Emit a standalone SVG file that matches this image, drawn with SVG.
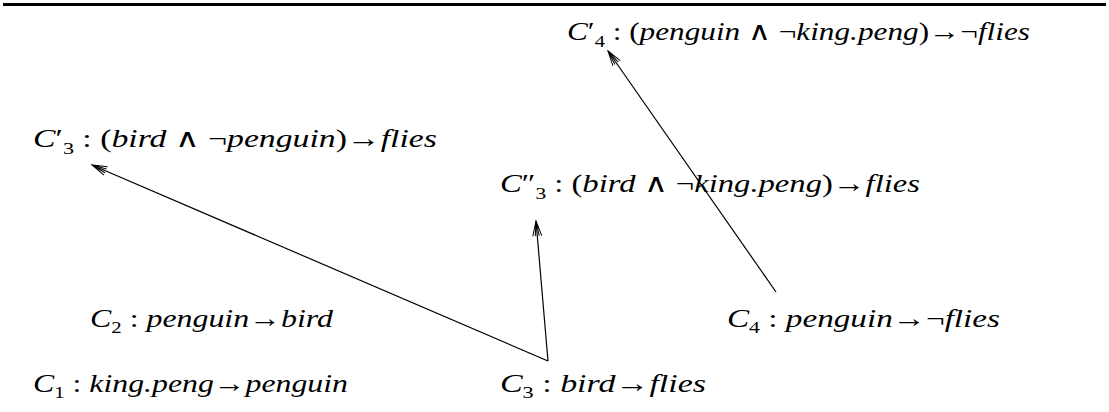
<svg xmlns="http://www.w3.org/2000/svg" width="1109" height="412" viewBox="0 0 1109 412">
<style>
.t{font-family:"Liberation Serif","Times New Roman",serif;font-size:26px;font-style:italic;fill:#000}
.u{font-style:normal}
.s{font-style:normal;font-size:17px}
.c{stroke:#000;stroke-width:1.2;fill:none}
</style>
<defs>
<marker id="ah" viewBox="-16 -6 18 12" markerWidth="18" markerHeight="12" refX="0" refY="0" orient="auto" markerUnits="userSpaceOnUse">
<path d="M-15,-4.5 L0,0 L-15,4.5 M-15,-2 L0,0 L-15,2" stroke="#000" stroke-width="1" fill="none"/>
</marker>
</defs>
<rect width="1109" height="412" fill="#fff"/>
<line x1="3" y1="4.5" x2="1106" y2="4.5" stroke="#000" stroke-width="3"/>
<g id="connectors">
<line class="c" x1="548" y1="361" x2="92" y2="165" marker-end="url(#ah)"/>
<line class="c" x1="548" y1="361" x2="536" y2="221" marker-end="url(#ah)"/>
<line class="c" x1="776" y1="292" x2="608" y2="51" marker-end="url(#ah)"/>
</g>
<g id="c4p"><text class="t" x="567" y="40" textLength="463" lengthAdjust="spacingAndGlyphs">C<tspan class="u">′</tspan><tspan class="s" dy="7">4</tspan><tspan class="u" dy="-7"> : (</tspan>penguin <tspan class="u">∧ ¬</tspan>king.peng<tspan class="u">)→¬</tspan>flies</text></g>
<g id="c3p"><text class="t" x="33" y="147" textLength="404" lengthAdjust="spacingAndGlyphs">C<tspan class="u">′</tspan><tspan class="s" dy="7">3</tspan><tspan class="u" dy="-7"> : (</tspan>bird <tspan class="u">∧ ¬</tspan>penguin<tspan class="u">)→</tspan>flies</text></g>
<g id="c3pp"><text class="t" x="500" y="192" textLength="420" lengthAdjust="spacingAndGlyphs">C<tspan class="u">″</tspan><tspan class="s" dy="7">3</tspan><tspan class="u" dy="-7"> : (</tspan>bird <tspan class="u">∧ ¬</tspan>king.peng<tspan class="u">)→</tspan>flies</text></g>
<g id="c2"><text class="t" x="90" y="327" textLength="243" lengthAdjust="spacingAndGlyphs">C<tspan class="s" dy="6">2</tspan><tspan class="u" dy="-6"> : </tspan>penguin<tspan class="u">→</tspan>bird</text></g>
<g id="c4"><text class="t" x="727" y="327" textLength="273" lengthAdjust="spacingAndGlyphs">C<tspan class="s" dy="6">4</tspan><tspan class="u" dy="-6"> : </tspan>penguin<tspan class="u">→¬</tspan>flies</text></g>
<g id="c1"><text class="t" x="33" y="392" textLength="315" lengthAdjust="spacingAndGlyphs">C<tspan class="s" dy="6">1</tspan><tspan class="u" dy="-6"> : </tspan>king.peng<tspan class="u">→</tspan>penguin</text></g>
<g id="c3"><text class="t" x="500" y="392" textLength="206" lengthAdjust="spacingAndGlyphs">C<tspan class="s" dy="6">3</tspan><tspan class="u" dy="-6"> : </tspan>bird<tspan class="u">→</tspan>flies</text></g>
</svg>
